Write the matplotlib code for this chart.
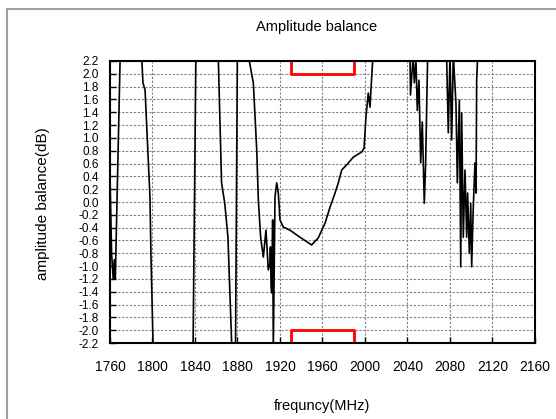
import matplotlib
matplotlib.use('Agg')
import matplotlib.pyplot as plt
from matplotlib.patches import Rectangle

plt.rcParams['font.family'] = ['Liberation Sans', 'DejaVu Sans']

freq = [1760, 1761.5, 1763, 1764, 1765, 1770, 1789, 1790, 1791, 1793, 1797.6, 1798.6,
        1800.5, 1802, 1838, 1841, 1860, 1862, 1865, 1868, 1871, 1874.5, 1876, 1878,
        1880, 1889, 1891.1, 1894.9, 1898.1, 1899.6, 1901.8, 1904.3, 1906.8, 1909,
        1910.6, 1911, 1911.6, 1912.2, 1912.6, 1913.1, 1913.7, 1915.3, 1916.9, 1918.4,
        1920, 1923.1, 1929.4, 1938.8, 1949.8, 1956, 1962.4, 1967.1, 1971.8, 1974.9,
        1978.1, 1982.8, 1989, 1996.9, 1999.1, 2000.9, 2003.1, 2004.7, 2006.3, 2007.2,
        2009, 2040, 2042.4, 2042.8, 2045.4, 2046.4, 2048, 2049.2, 2050.8, 2052.4,
        2053.9, 2055.8, 2057.1, 2059, 2061, 2075, 2076.9, 2078.4, 2080, 2081.6,
        2083.1, 2085.6, 2086.9, 2088.8, 2090.1, 2091, 2092.5, 2094.1, 2095.7, 2096.6,
        2098.2, 2099.5, 2100.4, 2101.9, 2103.5, 2104.5, 2105.1, 2106.1, 2108]
bal = [0.4, -0.8, -1.2, -0.9, -1.2, 2.6, 2.6, 2.2, 1.86, 1.75, 0.08, -0.86,
       -2.2, -2.6, -2.6, 2.6, 2.6, 2.2, 0.3, -0.02, -0.55, -2.2, -2.6, -2.6,
       2.6, 2.6, 2.2, 1.86, 0.81, 0.03, -0.55, -0.86, -0.44, -1.06,
       -0.95, -0.7, -1.3, -1.42, -0.9, -0.28, -2.3, 0.08, 0.3, 0.14,
       -0.28, -0.39, -0.44, -0.55, -0.67, -0.56, -0.33, -0.08, 0.14, 0.3,
       0.5, 0.58, 0.7, 0.78, 0.84, 1.33, 1.7, 1.48, 1.95, 2.2,
       2.6, 2.6, 2.2, 1.67, 2.3, 1.86, 2.2, 1.43, 1.9, 0.61,
       1.25, -0.02, 0.63, 2.3, 2.6, 2.6, 2.2, 1.08, 2.3, 0.97,
       2.3, 1.54, 0.3, 1.59, -1.01, 1.39, -0.55, 0.5, -0.55, 0.14,
       -0.8, -0.02, -1.01, -0.08, 0.61, 0.14, 1.9, 2.3, 2.6]

# spec window
spec_f = [1930, 1930, 1990, 1990]
spec_hi = [2.2, 2.0, 2.0, 2.2]
spec_lo = [-2.2, -2.0, -2.0, -2.2]

fig = plt.figure(figsize=(5.56, 4.19), dpi=100)
ax = fig.add_axes([110 / 556, 1 - 343 / 419, 425 / 556, 282 / 419])

# outer chart frame
fig.patches.append(Rectangle((7 / 556, -0.1), 1.1, 1 - 9 / 419 + 0.1,
                             transform=fig.transFigure, fill=False,
                             edgecolor='#a0a0a0', linewidth=1.5))

ax.plot(freq, bal, color='black', linewidth=1.2)
ax.plot(spec_f, spec_hi, color='red', linewidth=2)
ax.plot(spec_f, spec_lo, color='red', linewidth=2)

ax.set_xlim(1760, 2160)
ax.set_ylim(-2.2, 2.2)
ax.set_xticks(range(1760, 2161, 40))
yt = [round(-2.2 + 0.2 * i, 1) for i in range(23)]
ax.set_yticks(yt)
ax.set_yticklabels(['%.1f' % v for v in yt])

ax.grid(True, color='#808080', linestyle=(0, (2, 1.5)), linewidth=0.8)
ax.tick_params(axis='both', direction='in', length=4, width=1, color='black')
ax.tick_params(axis='x', labelsize=10, pad=12)
ax.tick_params(axis='y', labelsize=8.5, pad=8)
for s in ax.spines.values():
    s.set_linewidth(1.5)
    s.set_color('black')

fig.text(317 / 556, 1 - 27 / 419, 'Amplitude balance', ha='center', va='center', fontsize=10.5)
fig.text(322.5 / 556, 1 - 406 / 419, 'frequncy(MHz)', ha='center', va='center', fontsize=10.5)
fig.text(43 / 556, 1 - 204 / 419, 'amplitude balance(dB)', ha='center', va='center',
         rotation=90, fontsize=11)

fig.savefig('out.png', dpi=100)
